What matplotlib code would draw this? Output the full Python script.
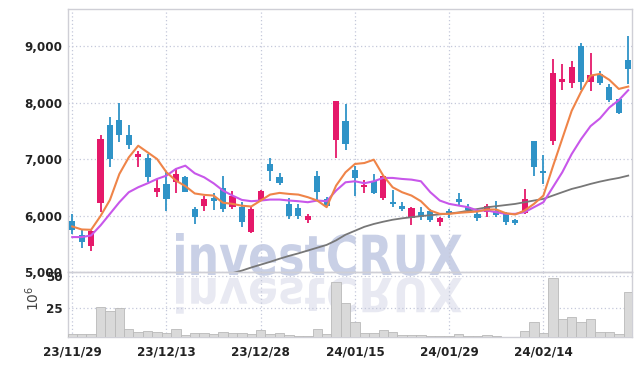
import numpy as np
import matplotlib
matplotlib.use('Agg')
import matplotlib.pyplot as plt
from matplotlib.textpath import TextPath
from matplotlib.patches import PathPatch
from matplotlib.font_manager import FontProperties, fontManager
import matplotlib.transforms as mtransforms

# daily candles, 23/11/29 .. 24/02/27
opens = [5894, 5647, 5453, 6218, 7600, 7694, 7429, 7029, 7024, 6412,
         6565, 6600, 6688, 6118, 6165, 6312, 6494, 6147, 6159, 5706,
         6276, 6918, 6688, 6212, 6129, 5924, 6706, 6294, 7335, 7676,
         6806, 6512, 6618, 6306, 6247, 6165, 5953, 6059, 6071, 5882,
         6071, 6288, 6159, 6029, 6059, 6088, 6029, 5929, 6041, 7312,
         6794, 7324, 8371, 8353, 9000, 8371, 8512, 8282, 8059, 8753]
closes = [5747, 5529, 5718, 7353, 6994, 7418, 7241, 7094, 6676, 6494,
          6288, 6740, 6422, 5971, 6294, 6253, 6118, 6353, 5882, 6118,
          6435, 6794, 6576, 5988, 5994, 6000, 6424, 6165, 8024, 7265,
          6659, 6547, 6394, 6706, 6200, 6118, 6129, 5982, 5912, 5953,
          6018, 6235, 6106, 5959, 6176, 6012, 5882, 5865, 6294, 6853,
          6747, 8529, 8412, 8629, 8371, 8488, 8353, 8047, 7818, 8600]
highs = [6029, 5735, 5765, 7424, 7747, 7988, 7600, 7147, 7088, 6647,
         6794, 6820, 6700, 6147, 6353, 6394, 6706, 6429, 6235, 6176,
         6459, 7018, 6747, 6306, 6206, 6018, 6794, 6324, 8024, 7982,
         6882, 6635, 6735, 6718, 6453, 6235, 6147, 6147, 6118, 5971,
         6118, 6394, 6206, 6059, 6206, 6265, 6059, 5941, 6471, 7324,
         7071, 8765, 8676, 8735, 9047, 8882, 8559, 8324, 8059, 9176]
lows = [5665, 5429, 5371, 6070, 6853, 7306, 7171, 6865, 6588, 6324,
        6071, 6400, 6410, 5841, 6088, 6106, 6059, 6118, 5794, 5694,
        6265, 6618, 6541, 5941, 5941, 5865, 6265, 6147, 7012, 7159,
        6341, 6400, 6382, 6276, 6147, 6088, 5835, 5924, 5882, 5812,
        5959, 6194, 6047, 5900, 5971, 5982, 5824, 5824, 6029, 6694,
        6559, 7247, 8218, 8253, 8218, 8206, 8312, 8012, 7794, 8324]

ma_orange = [5806, 5753, 5747, 5990, 6276, 6735, 7029, 7235, 7118, 7000,
             6765, 6618, 6520, 6390, 6365, 6353, 6226, 6206, 6173, 6160,
             6265, 6370, 6400, 6382, 6370, 6324, 6265, 6147, 6529, 6765,
             6912, 6929, 6988, 6706, 6500, 6412, 6353, 6253, 6088, 6029,
             6029, 6047, 6059, 6071, 6106, 6106, 6041, 6018, 6088, 6206,
             6353, 6865, 7360, 7853, 8190, 8476, 8506, 8400, 8240, 8282]
ma_purple = [5618, 5618, 5647, 5824, 6029, 6235, 6412, 6500, 6570, 6647,
             6706, 6824, 6882, 6747, 6676, 6570, 6441, 6353, 6276, 6253,
             6265, 6282, 6282, 6265, 6253, 6235, 6265, 6253, 6441, 6588,
             6606, 6571, 6606, 6665, 6665, 6647, 6635, 6606, 6412, 6265,
             6206, 6176, 6147, 6088, 6088, 6059, 6029, 6029, 6059, 6147,
             6235, 6500, 6765, 7088, 7353, 7582, 7718, 7912, 8041, 8218]
nan = np.nan
ma_gray = [nan, nan, nan, nan, nan, nan, nan, nan, nan, nan,
           nan, nan, nan, nan, 4860, 4900, 4940, 4980, 5025, 5080,
           5130, 5180, 5235, 5285, 5330, 5380, 5430, 5480, 5560, 5660,
           5730, 5800, 5850, 5890, 5925, 5950, 5970, 5990, 6005, 6020,
           6035, 6055, 6085, 6115, 6145, 6165, 6185, 6205, 6235, 6265,
           6294, 6353, 6412, 6470, 6512, 6559, 6600, 6635, 6665, 6706]

volume = [4.0, 4.0, 4.0, 25.3, 22.2, 24.5, 8.2, 5.6, 6.4, 5.6,
          4.8, 8.0, 3.5, 4.8, 4.8, 4.0, 5.6, 4.8, 4.8, 4.0,
          7.2, 4.0, 4.8, 3.2, 2.7, 2.7, 8.0, 4.0, 45.0, 28.5,
          13.5, 4.8, 4.8, 7.2, 5.6, 3.2, 3.2, 3.2, 2.4, 2.4,
          2.4, 4.0, 2.7, 2.7, 3.2, 2.7, 1.9, 1.9, 6.4, 13.5,
          4.8, 48.2, 15.8, 17.4, 13.5, 15.8, 5.6, 5.6, 4.0, 37.2]

tick_idx = [0, 10, 20, 30, 40, 50]
tick_labels = ['23/11/29', '23/12/13', '23/12/28', '24/01/15', '24/01/29', '24/02/14']
price_ticks = [5000, 6000, 7000, 8000, 9000]
vol_ticks = [25, 50]

RED = '#e5196a'
BLUE = '#2f93c7'
GRID = '#c4c8da'
SPINE = '#cfcfd6'
TXT = '#222222'

# pick a narrow face for the tick labels if one is installed
installed = {(f.name, f.stretch) for f in fontManager.ttflist}
names = {f.name for f in fontManager.ttflist}
if 'Liberation Sans Narrow' in names:
    tprop = dict(family=['Liberation Sans Narrow', 'DejaVu Sans'], weight='bold', stretch='normal', size=11)
elif ('DejaVu Sans', 'condensed') in installed or ('DejaVu Sans', 'semi-condensed') in installed:
    tprop = dict(family=['DejaVu Sans'], weight='bold', stretch='condensed', size=9.5)
elif 'Roboto Condensed' in names:
    tprop = dict(family=['Roboto Condensed', 'DejaVu Sans'], weight='bold', stretch='normal', size=11)
else:
    tprop = dict(family=['Roboto', 'DejaVu Sans'], weight='medium', stretch='normal', size=9.5)

fig = plt.figure(figsize=(6.42, 3.66), dpi=100)
ax = fig.add_axes([68/642, (366-272)/366, 564/642, 263/366])
axv = fig.add_axes([68/642, (366-337)/366, 564/642, 65/366], sharex=ax)
for a in (ax, axv):
    a.patch.set_alpha(0)

# watermark + reflection
fp = FontProperties(family=tprop['family'], weight='bold', stretch=tprop['stretch'])
tp = TextPath((0, 0), 'investCRUX', size=100, prop=fp)
bb = tp.get_extents()
sx = 286 / bb.width
sy = 42 / bb.y1
tr = mtransforms.Affine2D().translate(-bb.x0, 0).scale(sx, sy).translate(176, 91).scale(0.01) + fig.dpi_scale_trans
fig.add_artist(PathPatch(tp, transform=tr, color='#c9d0e6', lw=0, zorder=-1))
tr2 = mtransforms.Affine2D().translate(-bb.x0, 0).scale(sx, -sy * 0.85).translate(176, 88).scale(0.01) + fig.dpi_scale_trans
fig.add_artist(PathPatch(tp, transform=tr2, color='#e8e9f2', lw=0, zorder=-1))

x = np.arange(len(opens))
o = np.array(opens, float)
c = np.array(closes, float)
cols = np.where(c >= o, RED, BLUE)
ax.vlines(x, lows, highs, color=cols, lw=1.3, zorder=3)
ax.bar(x, np.maximum(np.abs(c - o), 12), bottom=np.minimum(o, c), width=0.65,
       color=cols, zorder=4)

ax.plot(x, ma_gray, color='#777777', lw=1.3, zorder=5)
ax.plot(x, ma_purple, color='#c857ea', lw=1.5, zorder=5)
ax.plot(x, ma_orange, color='#ef8448', lw=1.5, zorder=5)

axv.bar(x, volume, width=1.0, color='#d9d9d9', edgecolor='#b9b9b9', lw=0.6, zorder=3)

ax.set_xlim(-0.45, 59.4)
ax.set_ylim(5000, 9655)
ax.set_yticks(price_ticks)
ax.set_yticklabels(['{:,}'.format(v) for v in price_ticks])
axv.set_ylim(1.9, 53.15)
axv.set_yticks(vol_ticks)
axv.set_yticklabels([str(v) for v in vol_ticks])
axv.set_xticks(tick_idx)
axv.set_xticklabels(tick_labels)
ax.tick_params(labelbottom=False)

for a in (ax, axv):
    a.grid(True, ls=(0, (1, 2)), color=GRID, lw=0.9, zorder=0)
    a.set_axisbelow(True)
    a.tick_params(length=0, colors=TXT, pad=4)
    for s in a.spines.values():
        s.set_color(SPINE)
        s.set_linewidth(1.0)
    for lab in a.get_xticklabels() + a.get_yticklabels():
        lab.set_family(tprop['family'])
        lab.set_fontweight(tprop['weight'])
        lab.set_fontstretch(tprop['stretch'])
        lab.set_fontsize(tprop['size'])
axv.tick_params(axis='x', pad=6)

fig.text(33/642, 1 - 298/366, r'$10^6$', rotation=90, ha='center', va='center',
         color='#444444', fontsize=10)

fig.savefig('out.png', dpi=100)
